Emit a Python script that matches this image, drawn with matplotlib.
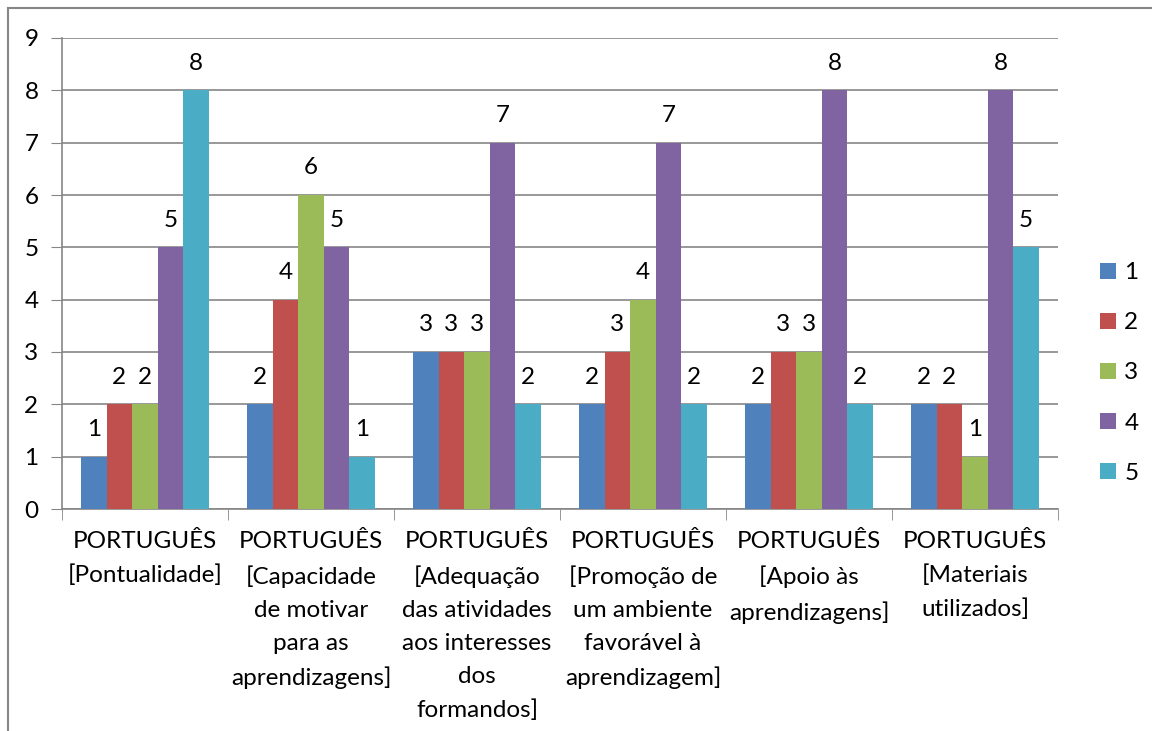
import numpy as np
from matplotlib import pyplot as plt
from matplotlib.lines import Line2D

categories = [
    "PORTUGUÊS\n[Pontualidade]",
    "PORTUGUÊS\n[Capacidade\nde motivar\npara as\naprendizagens]",
    "PORTUGUÊS\n[Adequação\ndas atividades\naos interesses\ndos\nformandos]",
    "PORTUGUÊS\n[Promoção de\num ambiente\nfavorável à\naprendizagem]",
    "PORTUGUÊS\n[Apoio às\naprendizagens]",
    "PORTUGUÊS\n[Materiais\nutilizados]",
]
series_names = ["1", "2", "3", "4", "5"]
s1 = [1, 2, 3, 2, 2, 2]
s2 = [2, 4, 3, 3, 3, 2]
s3 = [2, 6, 3, 4, 3, 1]
s4 = [5, 5, 7, 7, 8, 8]
s5 = [8, 1, 2, 2, 2, 5]
colors = ["#4F81BD", "#C0504D", "#9BBB59", "#8064A2", "#4BACC6"]

plt.rcParams['font.family'] = ['Lato', 'DejaVu Sans']
fs = 17.5

dpi = 100
fig = plt.figure(figsize=(1152 / dpi, 731 / dpi), dpi=dpi)
ax = fig.add_axes([62 / 1152, 1 - 509 / 731, (1058 - 62) / 1152, (509 - 38) / 731])

xs = np.arange(len(categories))
w = 0.154
for i, (vals, name, c) in enumerate(zip([s1, s2, s3, s4, s5], series_names, colors)):
    pos = xs + (i - 2) * w
    ax.bar(pos, vals, w, color=c, label=name, zorder=3)
    for x, v in zip(pos, vals):
        ax.text(x, v + 0.32, str(v), ha='center', va='bottom', fontsize=fs)

ax.set_xlim(-0.5, len(categories) - 0.5)
ax.set_ylim(0, 9)
ax.set_yticks(range(0, 10))
ax.yaxis.grid(True, color='#868686', linewidth=1.2, zorder=0)
ax.tick_params(axis='y', length=8, color='#868686', labelsize=fs, pad=9)
ax.set_xticks(xs)
ax.set_xticklabels(categories, fontsize=fs, linespacing=1.7, multialignment='center')
ax.tick_params(axis='x', length=0, pad=16)
ax.set_xticks(np.arange(-0.5, len(categories)), minor=True)
ax.tick_params(axis='x', which='minor', length=8, color='#868686')
for side in ['top', 'right']:
    ax.spines[side].set_visible(False)
for side in ['left', 'bottom']:
    ax.spines[side].set_color('#868686')
    ax.spines[side].set_linewidth(1.2)

ax.legend(loc='center left', bbox_to_anchor=(1100 / 1152, 1 - 373 / 731),
          bbox_transform=fig.transFigure, borderaxespad=0, borderpad=0,
          frameon=False, fontsize=fs, handlelength=0.65, handleheight=0.65,
          labelspacing=1.2, handletextpad=0.35)

# outer chart border (only left and top visible)
fig.add_artist(Line2D([8 / 1152, 8 / 1152], [0, 1 - 8 / 731], transform=fig.transFigure,
                      color='#868686', linewidth=1.5))
fig.add_artist(Line2D([8 / 1152, 1], [1 - 8 / 731, 1 - 8 / 731], transform=fig.transFigure,
                      color='#868686', linewidth=1.5))

plt.savefig("out.png", dpi=dpi)
